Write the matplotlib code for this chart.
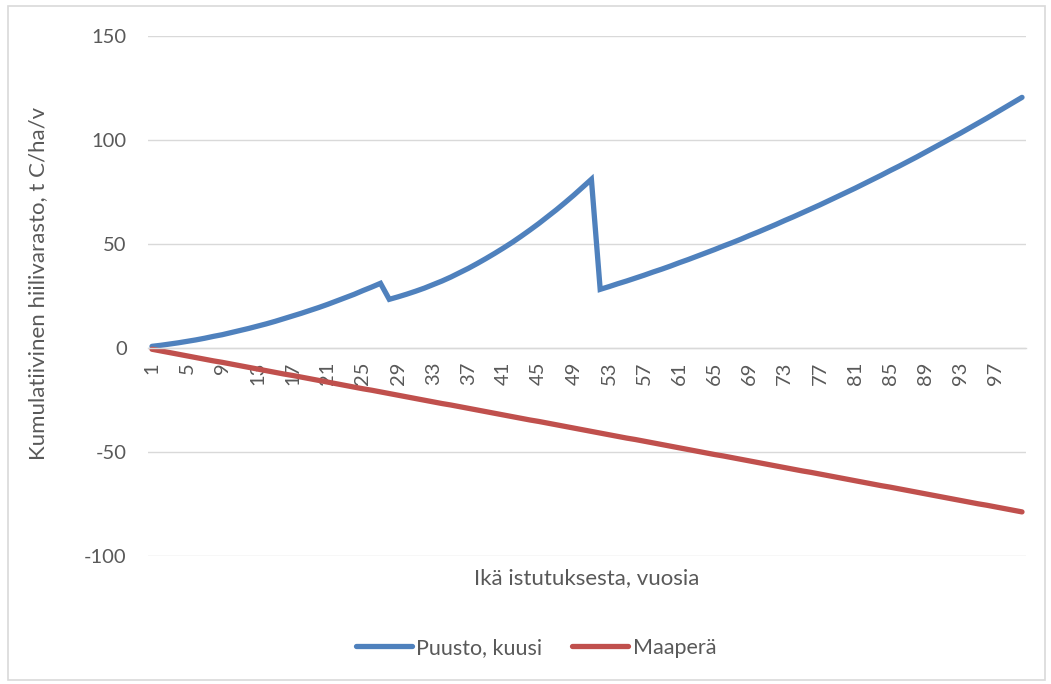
import matplotlib
matplotlib.use("Agg")
from matplotlib import pyplot as plt
from matplotlib.patches import Rectangle

# Years since planting (categories 1..100)
years = list(range(1, 101))

# Tree stock, spruce (thinnings at year 28 and 52)
puusto = [0.8, 1.3, 1.9, 2.5, 3.2, 3.9, 4.7, 5.6, 6.4, 7.4,
          8.4, 9.4, 10.5, 11.6, 12.8, 14.1, 15.4, 16.7, 18.1, 19.5,
          21.0, 22.6, 24.2, 25.8, 27.6, 29.3, 31.1,
          23.4, 24.6, 25.9, 27.3, 28.8, 30.5, 32.2, 34.1, 36.2, 38.3,
          40.6, 43.0, 45.5, 48.1, 50.8, 53.7, 56.7, 59.8, 63.1, 66.4,
          69.9, 73.5, 77.3, 81.1,
          28.2, 29.5, 30.9, 32.2, 33.6, 35.0, 36.5, 37.9, 39.4, 41.0,
          42.5, 44.1, 45.7, 47.3, 49.0, 50.6, 52.3, 54.1, 55.8, 57.6,
          59.4, 61.3, 63.1, 65.0, 66.9, 68.8, 70.8, 72.8, 74.8, 76.8,
          78.9, 81.0, 83.1, 85.3, 87.4, 89.6, 91.8, 94.1, 96.4, 98.7,
          101.0, 103.3, 105.7, 108.1, 110.5, 113.0, 115.5, 118.0, 120.5]

# Soil
maapera = [-0.6, -1.4, -2.2, -3.0, -3.8, -4.6, -5.4, -6.2, -6.9, -7.7,
           -8.5, -9.3, -10.1, -10.9, -11.7, -12.5, -13.2, -14.0, -14.8, -15.6,
           -16.4, -17.2, -18.0, -18.8, -19.6, -20.3, -21.1, -21.9, -22.7, -23.5,
           -24.3, -25.1, -25.9, -26.7, -27.4, -28.2, -29.0, -29.8, -30.6, -31.4,
           -32.2, -33.0, -33.8, -34.6, -35.3, -36.1, -36.9, -37.7, -38.5, -39.3,
           -40.1, -40.9, -41.7, -42.5, -43.3, -44.0, -44.8, -45.6, -46.4, -47.2,
           -48.0, -48.8, -49.6, -50.4, -51.2, -51.9, -52.7, -53.5, -54.3, -55.1,
           -55.9, -56.7, -57.5, -58.3, -59.1, -59.8, -60.6, -61.4, -62.2, -63.0,
           -63.8, -64.6, -65.4, -66.2, -66.9, -67.7, -68.5, -69.3, -70.1, -70.9,
           -71.7, -72.5, -73.3, -74.1, -74.9, -75.6, -76.4, -77.2, -78.0, -78.8]

y_ticks = [-100, -50, 0, 50, 100, 150]

plt.rcParams['font.family'] = ['Lato', 'DejaVu Sans']
plt.rcParams['axes.unicode_minus'] = False
text_col = '#595959'
grid_col = '#d9d9d9'

fig = plt.figure(figsize=(10.51, 6.84), dpi=100)
ax = fig.add_axes([147.6 / 1051, 1 - 556 / 684, (1026.4 - 147.6) / 1051, 520 / 684])

for s in ['top', 'right', 'left']:
    ax.spines[s].set_visible(False)
ax.spines['bottom'].set_position(('data', 0))
ax.spines['bottom'].set_color(grid_col)
ax.spines['bottom'].set_linewidth(1)

ax.plot(years, puusto, color='#4f81bd', lw=3.8, solid_joinstyle='miter', solid_capstyle='round', label='Puusto, kuusi')
ax.plot(years, maapera, color='#c0504d', lw=3.8, solid_capstyle='round', label='Maaperä')

ax.set_xlim(0.5, 100.5)
ax.set_ylim(-100, 150)
ax.set_yticks(y_ticks)
ax.set_xticks(years[::4])
ax.set_xticklabels([str(y) for y in years[::4]])
ax.grid(axis='y', color=grid_col, lw=1)
ax.set_axisbelow(True)

ax.tick_params(axis='x', length=0, pad=10, labelsize=14.5, labelcolor=text_col, labelrotation=90)
ax.tick_params(axis='y', length=0, pad=15, labelsize=14.5, labelcolor=text_col)

fig.text(38 / 1051, 1 - 283 / 684, 'Kumulatiivinen hiilivarasto, t C/ha/v', rotation=90,
         ha='center', va='center', fontsize=16, color=text_col)
fig.text(587 / 1051, 1 - 578 / 684, 'Ikä istutuksesta, vuosia',
         ha='center', va='center', fontsize=16, color=text_col)

leg = fig.legend(loc='center', bbox_to_anchor=(536 / 1051, 1 - 648 / 684), ncol=2, frameon=False,
                 fontsize=15.5, handlelength=2.6, handletextpad=0.2, columnspacing=1.4)
for t in leg.get_texts():
    t.set_color(text_col)

fig.patches.append(Rectangle((8 / 1051, 4 / 684), 1037 / 1051, 674 / 684, transform=fig.transFigure,
                             fill=False, edgecolor=grid_col, lw=1.2))

plt.savefig('out.png', dpi=100)
